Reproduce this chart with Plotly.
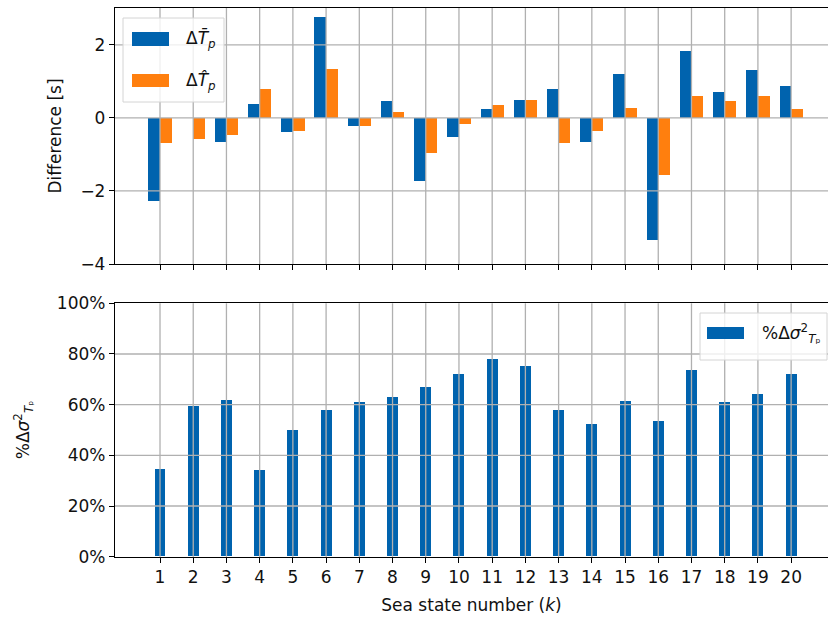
import plotly.graph_objects as go

# ---------------- data ----------------
k = list(range(1, 21))
d_tbar = [-2.28, 0.0, -0.66, 0.38, -0.39, 2.76, -0.21, 0.47, -1.73, -0.53,
          0.24, 0.50, 0.79, -0.66, 1.20, -3.35, 1.83, 0.71, 1.31, 0.87]
d_that = [-0.69, -0.57, -0.47, 0.79, -0.36, 1.35, -0.21, 0.16, -0.95, -0.17,
          0.35, 0.50, -0.69, -0.36, 0.27, -1.57, 0.60, 0.46, 0.60, 0.24]
pct_var = [34.6, 59.2, 61.9, 34.2, 50.0, 57.6, 60.9, 63.0, 66.7, 72.0,
           77.9, 75.3, 57.6, 52.4, 61.2, 53.3, 73.7, 60.9, 64.1, 72.0]
top_yticks = [-4, -2, 0, 2]
bot_yticks = [0, 20, 40, 60, 80, 100]
bot_yticklabels = ["0%", "20%", "40%", "60%", "80%", "100%"]

BLUE = "#0063ae"
ORANGE = "#ff7f0e"
GRID = "#b0b0b0"
FONT = "DejaVu Sans"
W, H = 828, 621

def px(x):
    return x / W

def py(y):
    return 1 - y / H

fig = go.Figure()
fig.add_trace(go.Bar(x=k, y=d_tbar, width=0.35, offset=-0.35, marker_color=BLUE,
                     marker_line_width=0, xaxis="x", yaxis="y", showlegend=False))
fig.add_trace(go.Bar(x=k, y=d_that, width=0.35, offset=0.0, marker_color=ORANGE,
                     marker_line_width=0, xaxis="x", yaxis="y", showlegend=False))
fig.add_trace(go.Bar(x=k, y=pct_var, width=0.33, marker_color=BLUE,
                     marker_line_width=0, xaxis="x2", yaxis="y2", showlegend=False))

xdom = [px(115), 1.0]
xrange = [-0.355, 21.11]
TXT = dict(family=FONT, size=17, color="#111")
axis_common = dict(showgrid=False, zeroline=False, showline=True, linecolor="black",
                   linewidth=1.3, ticks="outside", ticklen=5, tickwidth=1.2,
                   tickcolor="black", tickfont=TXT, automargin=False)

fig.update_layout(
    width=W, height=H, margin=dict(l=0, r=0, t=0, b=0),
    paper_bgcolor="white", plot_bgcolor="white", bargap=0,
    barmode="overlay",
    xaxis=dict(domain=xdom, range=xrange, tickvals=k, showticklabels=False,
               anchor="y", mirror=True, **axis_common),
    yaxis=dict(domain=[py(264), py(8)], range=[-4, 3.01], tickvals=top_yticks,
               anchor="x",
               title=dict(text="Difference [s]", standoff=14, font=TXT),
               **axis_common),
    xaxis2=dict(domain=xdom, range=xrange, tickvals=k, anchor="y2", mirror=True,
                title=dict(text="Sea state number (<i>k</i>)", standoff=12, font=TXT),
                **axis_common),
    yaxis2=dict(domain=[py(556.7), py(303.3)], range=[0, 100], tickvals=bot_yticks,
                ticktext=bot_yticklabels, anchor="x2",
                title=dict(text="%Δ<i>σ</i><sup>2</sup><sub><i>T</i>ₚ</sub>", standoff=22,
                           font=TXT),
                **axis_common),
)

shapes = []
# gridlines drawn above the bars (as in the reference)
for xa, ya, yt in (("x", "y", top_yticks), ("x2", "y2", bot_yticks)):
    for kv in k:
        shapes.append(dict(type="line", xref=xa, yref=ya + " domain", x0=kv, x1=kv,
                           y0=0, y1=1, line=dict(color=GRID, width=1.3), layer="above"))
    for yv in (yt[1:-1] if ya == "y2" else yt[1:]):
        shapes.append(dict(type="line", xref=xa + " domain", yref=ya, x0=0, x1=1,
                           y0=yv, y1=yv, line=dict(color=GRID, width=1.3), layer="above"))

# legend boxes
def rect(x0, y0, x1, y1, fill, line=None):
    return dict(type="rect", xref="paper", yref="paper", x0=px(x0), x1=px(x1),
                y0=py(y1), y1=py(y0), fillcolor=fill, layer="above",
                line=dict(color=line or fill, width=1 if line else 0))

shapes.append(rect(123, 18, 224, 102, "rgba(255,255,255,0.8)", "#d4d4d4"))
shapes.append(rect(132, 32, 169, 46, BLUE))
shapes.append(rect(132, 74, 169, 87, ORANGE))
shapes.append(rect(700, 313, 827, 360, "rgba(255,255,255,0.8)", "#d4d4d4"))
shapes.append(rect(707, 327, 744, 339, BLUE))
fig.update_layout(shapes=shapes)

legend_text = [
    (184, 39, "Δ<i>T̄</i><sub><i>p</i></sub>"),
    (184, 81, "Δ<i>T̂</i><sub><i>p</i></sub>"),
    (760, 333, "%Δ<i>σ</i><sup>2</sup><sub><i>T</i>ₚ</sub>"),
]
for x, y, t in legend_text:
    fig.add_annotation(x=px(x), y=py(y), xref="paper", yref="paper", text=t,
                       showarrow=False, xanchor="left", yanchor="middle",
                       font=TXT)

fig.write_html("out.html")
